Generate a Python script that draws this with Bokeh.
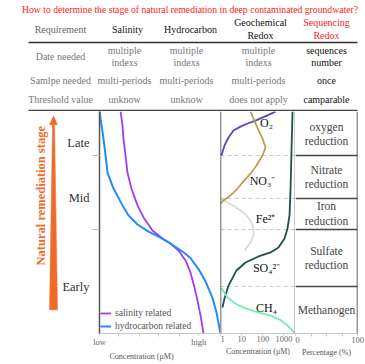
import numpy as np
from bokeh.plotting import figure
from bokeh.layouts import row, column
from bokeh.models import Range1d, FixedTicker, Span, Title, Legend, LegendItem
from bokeh.core.properties import value
from bokeh.embed import file_html
from bokeh.resources import INLINE

FONT = "Liberation Serif"
ORANGE = "#f06a2a"
RED = "#ff2020"

# ---------------- data ----------------
title_text = "How to determine the stage of natural remediation in deep contaminated groundwater?"
table_header = ["Requirement", "Salinity", "Hydrocarbon", "Geochemical\nRedox", "Sequencing\nRedox"]
row_labels = ["Date needed", "Samlpe needed", "Threshold value"]
date_needed = ["multiple\nindexs", "multiple\nindexs", "multiple\nindexs", "sequences\nnumber"]
sample_needed = ["multi-periods", "multi-periods", "multi-periods", "once"]
threshold_value = ["unknow", "unknow", "does not apply", "camparable"]

stage_labels = ["Late", "Mid", "Early"]
stage_label_pos = [86, 61, 21]
zone_bounds = [80, 61, 47, 21]
zone_names = ["oxygen\nreduction", "Nitrate\nreduction", "Iron\nreduction", "Sulfate\nreduction", "Methanogen"]

salinity_conc = [17.4, 19.0, 19.8, 21.5, 23.1, 26.4, 31.4, 36.4, 43.8, 52.1, 58.7, 65.3, 71.1, 75.2, 78.5, 81.0, 83.5, 86.0]
salinity_stage = [100, 93.7, 87.8, 80.2, 72.5, 65.3, 57.7, 52.3, 46.4, 42.8, 40.5, 37.4, 32.9, 27.5, 20.7, 14.9, 8.1, 0]
hydro_conc = [0, 1.7, 3.3, 5.0, 6.6, 11.6, 19.0, 24.0, 31.4, 40.5, 50.4, 58.7, 68.6, 75.2, 81.8, 87.6, 93.4, 96.7, 100]
hydro_stage = [100, 93.7, 87.8, 80.2, 72.5, 65.3, 57.7, 53.2, 49.1, 45.9, 43.2, 40.5, 36.9, 34.0, 29.0, 23.5, 16.0, 9.5, 0]

o2_conc = [1.11, 1.55, 2.39, 4.1, 8.8, 18.9, 45, 120, 320, 400]
o2_stage = [80.2, 84.7, 88.3, 91.4, 93.2, 94.6, 95.9, 97.7, 99.5, 100]
no3_conc = [26.2, 45, 96.6, 134, 96.6, 50.3, 26.2, 12.2, 6.4, 2.97, 1.39, 1.0]
no3_stage = [100, 94.6, 87.8, 83.8, 80.2, 75.7, 72.1, 68.5, 65.3, 62.2, 59.9, 58.6]
fe_conc = [1.0, 2.14, 4.6, 8.8, 16.9, 26.2, 36.3, 36.3, 26.2, 13.6]
fe_stage = [60.8, 59.0, 57.2, 55.4, 53.2, 50.9, 47.3, 44.1, 41.0, 37.4]
so4_conc = [2530, 2266, 2033, 1824, 1466, 1059, 551, 231, 62.5, 15.2, 5.7, 2.39, 1.55, 1.24]
so4_stage = [100, 82.4, 64.4, 53.2, 47.3, 42.8, 38.7, 36.5, 34.7, 32.0, 28.4, 21.6, 15.8, 11.7]
ch4_conc = [1.1, 2.14, 5.0, 12.2, 40, 231, 700, 1466, 3500]
ch4_stage = [20.5, 16.2, 13.5, 11.7, 10.0, 8.1, 6.0, 3.6, 0]

species_labels = ["O\u2082", "NO\u2083\u207b", "Fe\u00b2\u207a", "SO\u2084\u00b2\u207b", "CH\u2084"]
species_label_conc = [149, 96, 134, 149, 149]
species_label_stage = [95, 68.9, 51.8, 29.7, 11.3]

left_ticks = [0, 82]
left_tick_labels = ["low", "high"]
mid_ticks = [1, 10, 100, 1000]
right_ticks = [0, 100]
conc_label = "Concentration (\u03bcM)"
pct_label = "Percentage (%)"

# ---------------- helpers ----------------
def style_fig(p):
    p.outline_line_color = None
    p.background_fill_color = "white"
    p.border_fill_color = "white"
    for g in p.grid:
        g.visible = False
    return p

def style_xaxis(ax):
    ax.axis_line_color = "#c8c8c8"
    ax.major_tick_line_color = "#c8c8c8"
    ax.minor_tick_line_color = "#c8c8c8"
    ax.major_tick_out = 2
    ax.major_tick_in = 0
    ax.minor_tick_out = 3
    ax.minor_tick_in = 0
    ax.major_label_standoff = 0
    ax.major_label_text_font = FONT
    ax.major_label_text_font_size = "8.5px"
    ax.major_label_text_color = "#666666"

def add_bottom_label(p, text, align, offset):
    p.add_layout(Title(text=text, align=align, offset=offset, standoff=0,
                       text_font=FONT, text_font_size="8px", text_font_style="normal",
                       text_color="#555555"), "below")

# ---------------- table figure ----------------
tab = figure(width=365, height=111, x_range=Range1d(0, 365), y_range=Range1d(111, 0),
             toolbar_location=None, output_backend="svg", min_border=0,
             x_axis_location=None, y_axis_location=None)
style_fig(tab)
tab.text(x=[189.5], y=[8.5], text=[title_text], text_font=value(FONT), text_font_size="9.7px",
         text_color=RED, text_align="center", text_baseline="middle")
header_x = [60, 127, 190, 260, 326]
header_colors = ["#666666", "#111111", "#111111", "#111111", RED]
tab.text(x=header_x, y=[28.5] * 5, text=table_header, text_font=value(FONT), text_font_size="10px",
         text_color=header_colors, text_align="center", text_baseline="middle", text_line_height=1.15)
tab.segment(x0=[28], y0=[42], x1=[357], y1=[42], line_color="#333333", line_width=1.5)
tab.segment(x0=[28], y0=[110], x1=[357], y1=[110], line_color="#444444", line_width=1.5)
cell_x = [124, 186, 258, 326]
cell_colors = ["#777777", "#777777", "#777777", "#111111"]
row_y = [56, 80, 99]
tab.text(x=[60] * 3, y=row_y, text=row_labels, text_font=value(FONT), text_font_size="10px",
         text_color="#777777", text_align="center", text_baseline="middle")
for vals, yy in zip([date_needed, sample_needed, threshold_value], row_y):
    tab.text(x=cell_x, y=[yy] * 4, text=vals, text_font=value(FONT), text_font_size="10px",
             text_color=cell_colors, text_align="center", text_baseline="middle", text_line_height=1.15)

# ---------------- arrow figure ----------------
arr = figure(width=59, height=253, x_range=Range1d(0, 59), y_range=Range1d(364, 111),
             toolbar_location=None, output_backend="svg", min_border=0,
             x_axis_location=None, y_axis_location=None)
style_fig(arr)
arr.patch(x=[53, 57, 54, 57, 49, 52, 49], y=[116, 126, 126, 337, 337, 126, 126],
          fill_color=ORANGE, line_color=ORANGE, line_width=0.5)
arr.text(x=[40], y=[207], text=["Natural remediation stage"], angle=np.pi / 2,
         text_font=value(FONT), text_font_size="12.5px", text_font_style="bold",
         text_color=ORANGE, text_align="center", text_baseline="middle")

# ---------------- shared stage range ----------------
yr = Range1d(0, 100)

# ---------------- left panel ----------------
left = figure(width=161, height=253, x_range=Range1d(0, 100), y_range=yr,
              toolbar_location=None, output_backend="svg", min_border=0,
              min_border_left=40, min_border_bottom=31)
style_fig(left)
r_sal = left.line(salinity_conc, salinity_stage, line_color="#a23cf0", line_width=1.8)
r_hyd = left.line(hydro_conc, hydro_stage, line_color="#1e8cff", line_width=2)
xa = left.xaxis[0]
xa.ticker = FixedTicker(ticks=left_ticks, minor_ticks=[16, 33, 49, 66])
xa.major_label_overrides = {t: l for t, l in zip(left_ticks, left_tick_labels)}
style_xaxis(xa)
ya = left.yaxis[0]
ya.ticker = FixedTicker(ticks=stage_label_pos, minor_ticks=[zone_bounds[0], zone_bounds[2]])
ya.major_label_overrides = {t: l for t, l in zip(stage_label_pos, stage_labels)}
ya.major_tick_line_color = None
ya.major_tick_out = 7
ya.minor_tick_line_color = "#bbbbbb"
ya.minor_tick_out = 7
ya.minor_tick_in = 0
ya.axis_line_color = "#555555"
ya.axis_line_width = 1.5
ya.major_label_standoff = 3
ya.major_label_text_font = FONT
ya.major_label_text_font_size = "12.5px"
ya.major_label_text_color = "#333333"
legend = Legend(items=[LegendItem(label="salinity related", renderers=[r_sal]),
                       LegendItem(label="hydrocarbon related", renderers=[r_hyd])],
                location="bottom_left", border_line_color=None, background_fill_alpha=0,
                label_text_font=FONT, label_text_font_size="9.5px", label_text_color="#555555",
                glyph_width=11, glyph_height=12, label_height=12, spacing=1, padding=2,
                margin=1, label_standoff=4)
left.add_layout(legend)
add_bottom_label(left, conc_label, "left", 10)

# ---------------- middle panel ----------------
mid = figure(width=75, height=253, x_range=Range1d(1, 3500), x_axis_type="log", y_range=yr,
             toolbar_location=None, output_backend="svg", min_border=0, min_border_bottom=31,
             y_axis_location=None)
style_fig(mid)
mid.hspan(y=zone_bounds, line_color="#cccccc", line_width=1, line_dash="4 3")
mid.line(fe_conc, fe_stage, line_color="#d9d9d9", line_width=1.8)
mid.line(o2_conc, o2_stage, line_color="#5b47b8", line_width=1.8)
mid.line(no3_conc, no3_stage, line_color="#b8a05a", line_width=1.8)
mid.line(so4_conc, so4_stage, line_color="#1f4f4c", line_width=1.8)
mid.line(ch4_conc, ch4_stage, line_color="#72f0b0", line_width=1.8)
mid.text(x=species_label_conc, y=species_label_stage, text=species_labels,
         text_font=value(FONT), text_font_size="12px", text_color="#111111",
         text_align="center", text_baseline="middle")
xm = mid.xaxis[0]
xm.ticker = FixedTicker(ticks=mid_ticks)
xm.major_label_overrides = {t: str(t) for t in mid_ticks}
style_xaxis(xm)
mid.add_layout(Span(location=1, dimension="height", line_color="#333333", line_width=1.5))
mid.add_layout(Span(location=3500, dimension="height", line_color="#333333", line_width=1.5))
add_bottom_label(mid, conc_label, "center", 0)

# ---------------- right panel ----------------
right = figure(width=70, height=253, x_range=Range1d(0, 100), y_range=yr,
               toolbar_location=None, output_backend="svg", min_border=0, min_border_bottom=31,
               min_border_right=8, y_axis_location=None)
style_fig(right)
right.hspan(y=zone_bounds, line_color="#444444", line_width=1.3)
bounds_full = [100] + zone_bounds + [0]
zone_centers = [(a + b) / 2 for a, b in zip(bounds_full[:-1], bounds_full[1:])]
right.text(x=[50] * len(zone_names), y=zone_centers, text=zone_names,
           text_font=value(FONT), text_font_size="11.5px", text_color="#444444",
           text_align="center", text_baseline="middle", text_line_height=1.2)
xr = right.xaxis[0]
xr.ticker = FixedTicker(ticks=right_ticks, minor_ticks=[25, 50, 75])
style_xaxis(xr)
right.add_layout(Span(location=100, dimension="height", line_color="#333333", line_width=1.5))
add_bottom_label(right, pct_label, "center", 0)

layout = column(tab, row(arr, left, mid, right))
open("out.html", "w").write(file_html(layout, INLINE))
